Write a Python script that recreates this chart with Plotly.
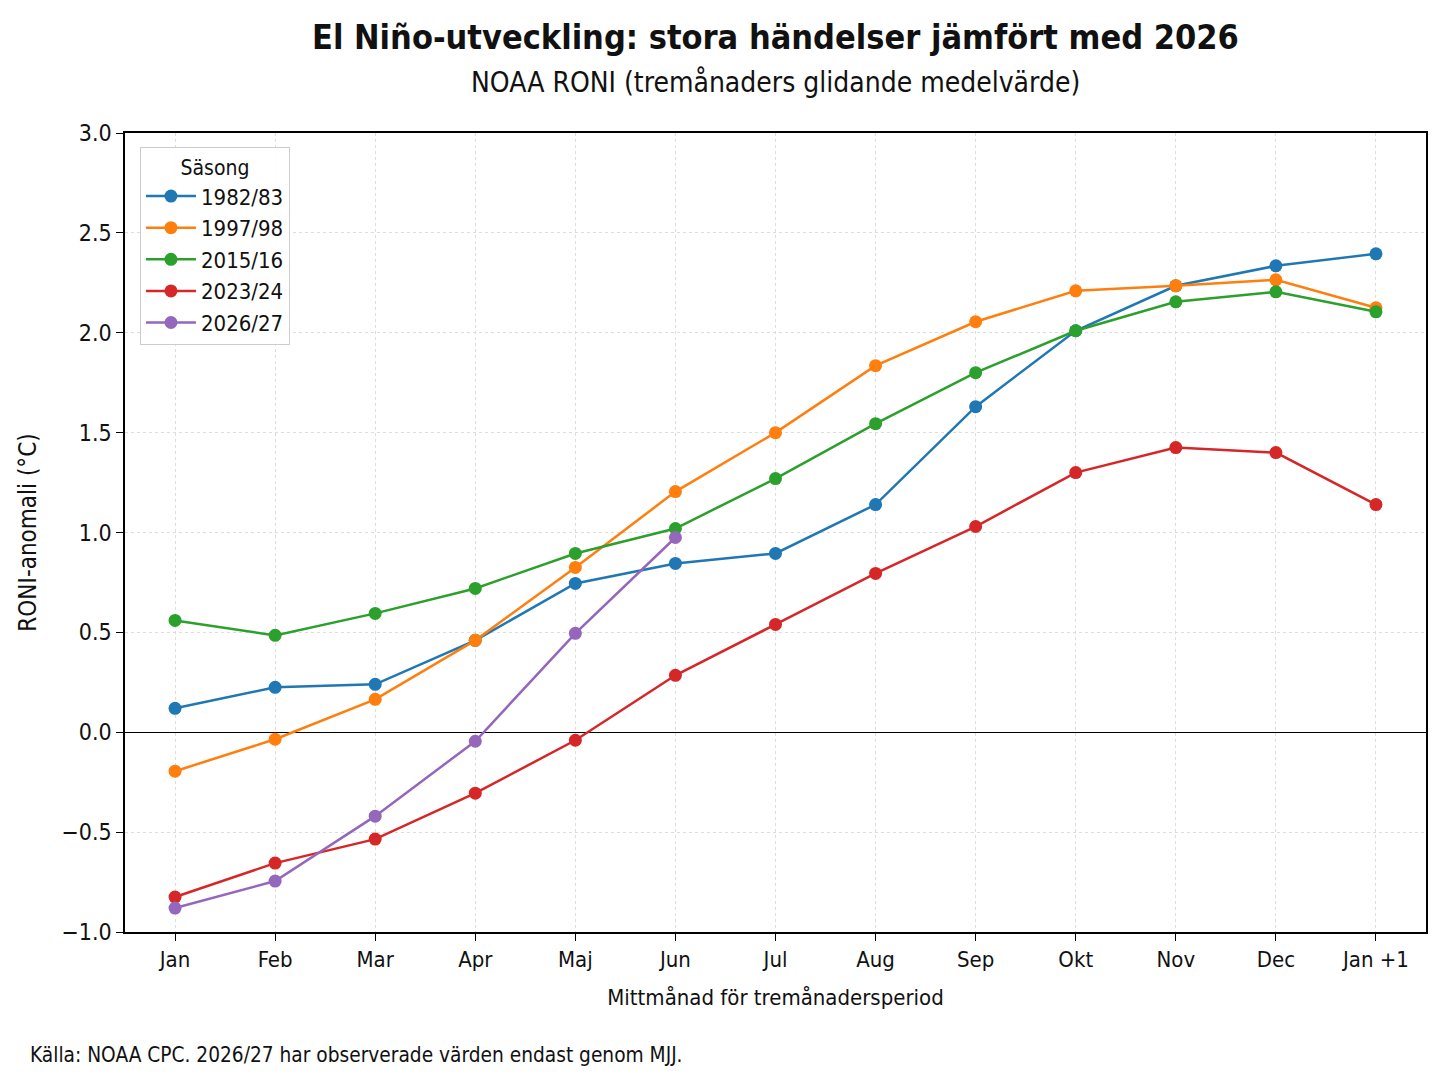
import plotly.graph_objects as go

months = ["Jan", "Feb", "Mar", "Apr", "Maj", "Jun", "Jul", "Aug", "Sep", "Okt", "Nov", "Dec", "Jan +1"]

roni_1982 = [0.12, 0.225, 0.24, 0.46, 0.745, 0.845, 0.895, 1.14, 1.63, 2.01, 2.235, 2.335, 2.395]
roni_1997 = [-0.195, -0.035, 0.165, 0.46, 0.825, 1.205, 1.50, 1.835, 2.055, 2.21, 2.235, 2.265, 2.125]
roni_2015 = [0.56, 0.485, 0.595, 0.72, 0.895, 1.02, 1.27, 1.545, 1.80, 2.01, 2.155, 2.205, 2.105]
roni_2023 = [-0.825, -0.655, -0.535, -0.305, -0.04, 0.285, 0.54, 0.795, 1.03, 1.30, 1.425, 1.40, 1.14]
roni_2026 = [-0.88, -0.745, -0.42, -0.045, 0.495, 0.975]

series = [
    ("1982/83", roni_1982, "#1f77b4"),
    ("1997/98", roni_1997, "#ff7f0e"),
    ("2015/16", roni_2015, "#2ca02c"),
    ("2023/24", roni_2023, "#d62728"),
    ("2026/27", roni_2026, "#9467bd"),
]

FONT = "DejaVu Sans Condensed"

fig = go.Figure()
for name, vals, color in series:
    fig.add_trace(
        go.Scatter(
            x=months[: len(vals)],
            y=vals,
            mode="lines+markers",
            name=name,
            line=dict(color=color, width=2.5),
            marker=dict(color=color, size=13),
        )
    )

fig.update_layout(
    width=1432,
    height=1070,
    paper_bgcolor="white",
    plot_bgcolor="white",
    margin=dict(l=117, r=12, t=125, b=146),
    font=dict(family=FONT, size=20, color="#111"),
    showlegend=True,
    legend=dict(
        title=dict(text="Säsong", side="top center", font=dict(size=21)),
        x=0.0115,
        y=0.9825,
        xanchor="left",
        yanchor="top",
        bgcolor="rgba(255,255,255,0.9)",
        bordercolor="#cccccc",
        borderwidth=1,
        font=dict(size=22),
        itemwidth=50,
    ),
    annotations=[
        dict(
            text="<b>El Niño-utveckling: stora händelser jämfört med 2026</b>",
            xref="paper", yref="paper", x=0.5, y=1.1202,
            xanchor="center", yanchor="middle", showarrow=False,
            font=dict(size=34, color="#111"),
        ),
        dict(
            text="NOAA RONI (tremånaders glidande medelvärde)",
            xref="paper", yref="paper", x=0.5, y=1.0638,
            xanchor="center", yanchor="middle", showarrow=False,
            font=dict(size=28, color="#111"),
        ),
        dict(
            text="Källa: NOAA CPC. 2026/27 har observerade värden endast genom MJJ.",
            xref="paper", yref="paper", x=-0.0744, y=-0.136,
            xanchor="left", yanchor="top", showarrow=False,
            font=dict(size=20.7, color="#111"),
        ),
    ],
)

fig.update_xaxes(
    type="category",
    categoryorder="array",
    categoryarray=months,
    range=[-0.5, 12.5],
    title=dict(text="Mittmånad för tremånadersperiod", font=dict(size=22), standoff=18),
    showgrid=True,
    gridcolor="#dddddd",
    griddash="dot",
    gridwidth=1,
    showline=True,
    linecolor="black",
    linewidth=1.5,
    mirror=True,
    ticks="outside",
    ticklen=7,
    tickcolor="black",
    tickfont=dict(size=22),
    zeroline=False,
)

fig.update_yaxes(
    range=[-1.0, 3.0],
    dtick=0.5,
    tickformat=".1f",
    title=dict(text="RONI-anomali (°C)", font=dict(size=24), standoff=18),
    showgrid=True,
    gridcolor="#dddddd",
    griddash="dot",
    gridwidth=1,
    showline=True,
    linecolor="black",
    linewidth=1.5,
    mirror=True,
    ticks="outside",
    ticklen=7,
    tickcolor="black",
    tickfont=dict(size=23),
    zeroline=True,
    zerolinecolor="black",
    zerolinewidth=1.3,
)

fig.write_html("out.html")
